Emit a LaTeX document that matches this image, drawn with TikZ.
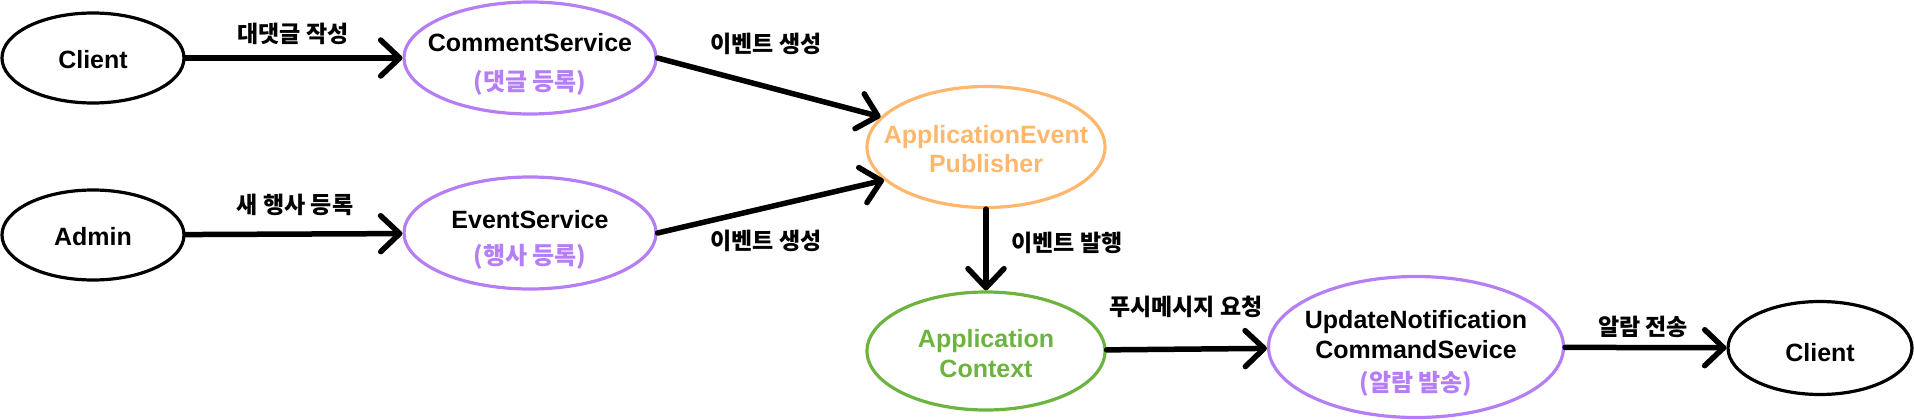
\documentclass[tikz,border=0pt]{standalone}
\usepackage{fontspec}
\setmainfont{Liberation Sans}
\newfontfamily\kr{Noto Sans CJK KR}
\usetikzlibrary{shapes.geometric,arrows.meta}
\definecolor{svcpurple}{RGB}{181,126,244}
\definecolor{puborange}{RGB}{255,183,110}
\definecolor{ctxgreen}{RGB}{109,179,63}
% centred, zero-size line, lowered by #1
\newcommand\olin[2]{\makebox[0pt]{\smash{\raisebox{#1}{#2}}}}
\tikzset{
  oval/.style={ellipse, draw, line width=3.2pt, inner sep=0pt, align=center,
    font=\bfseries\fontsize{25}{30}\selectfont},
  actor/.style={oval, draw=black, minimum width=182pt, minimum height=90pt},
  svc/.style={oval, draw=svcpurple},
  flow/.style={line width=5.5pt, line cap=round,
    -{Straight Barb[length=19pt,width=36pt,line width=5.5pt,round]}},
  lbl/.style={font=\kr\bfseries\fontsize{23}{26}\selectfont, inner sep=0pt}
}
\newcommand\kor[2]{\olin{#1}{\kr\fontsize{24}{30}\selectfont\color{svcpurple}#2}}
\begin{document}
\begin{tikzpicture}[x=1pt,y=-1pt]
\useasboundingbox (0,0) rectangle (1914,420);
\node[actor] (c1) at (93,58) {\olin{-10pt}{Client}};
\node[actor] (adm) at (93,235) {\olin{-10pt}{Admin}};
\node[svc, minimum width=252pt, minimum height=112pt] (cs) at (530,58)
  {\olin{-13.5pt}{CommentService}\\[9pt]\kor{-13.5pt}{(댓글 등록)}};
\node[svc, minimum width=252pt, minimum height=112pt] (es) at (530,233)
  {\olin{-13.5pt}{EventService}\\[6pt]\kor{-13.5pt}{(행사 등록)}};
\node[oval, draw=puborange, text=puborange, minimum width=238pt, minimum height=121pt] (pub) at (986,147)
  {\olin{-10.5pt}{ApplicationEvent}\\[-1pt]\olin{-10.5pt}{Publisher}};
\node[oval, draw=ctxgreen, text=ctxgreen, minimum width=238pt, minimum height=118pt] (ctx) at (986,351)
  {\olin{-11pt}{Application}\\\olin{-11pt}{Context}};
\node[svc, minimum width=295pt, minimum height=141pt] (un) at (1416,347)
  {\olin{-13pt}{UpdateNotification}\\\olin{-13pt}{CommandSevice}\\[3pt]\kor{-13pt}{(알람 발송)}};
\node[actor, minimum width=184pt, minimum height=93pt] (c2) at (1820,348) {\olin{-13pt}{Client}};

\draw[flow] (c1) -- (cs);
\draw[flow] (adm) -- (es);
\draw[flow] (cs.east) -- (pub.164);
\draw[flow] (es.east) -- (pub.198);
\draw[flow] (pub.south) -- (ctx.north);
\draw[flow] (ctx) -- (un);
\draw[flow] (un) -- (c2);

\node[lbl] (l1) at (293,34) {대댓글 작성};
\node[lbl] (l2) at (295,205) {새 행사 등록};
\node[lbl] (l3) at (766,44) {이벤트 생성};
\node[lbl] (l4) at (766,241) {이벤트 생성};
\node[lbl] (l5) at (1067,243) {이벤트 발행};
\node[lbl] (l6) at (1186,307) {푸시메시지 요청};
\node[lbl] (l7) at (1643,327) {알람 전송};
\end{tikzpicture}
\end{document}
